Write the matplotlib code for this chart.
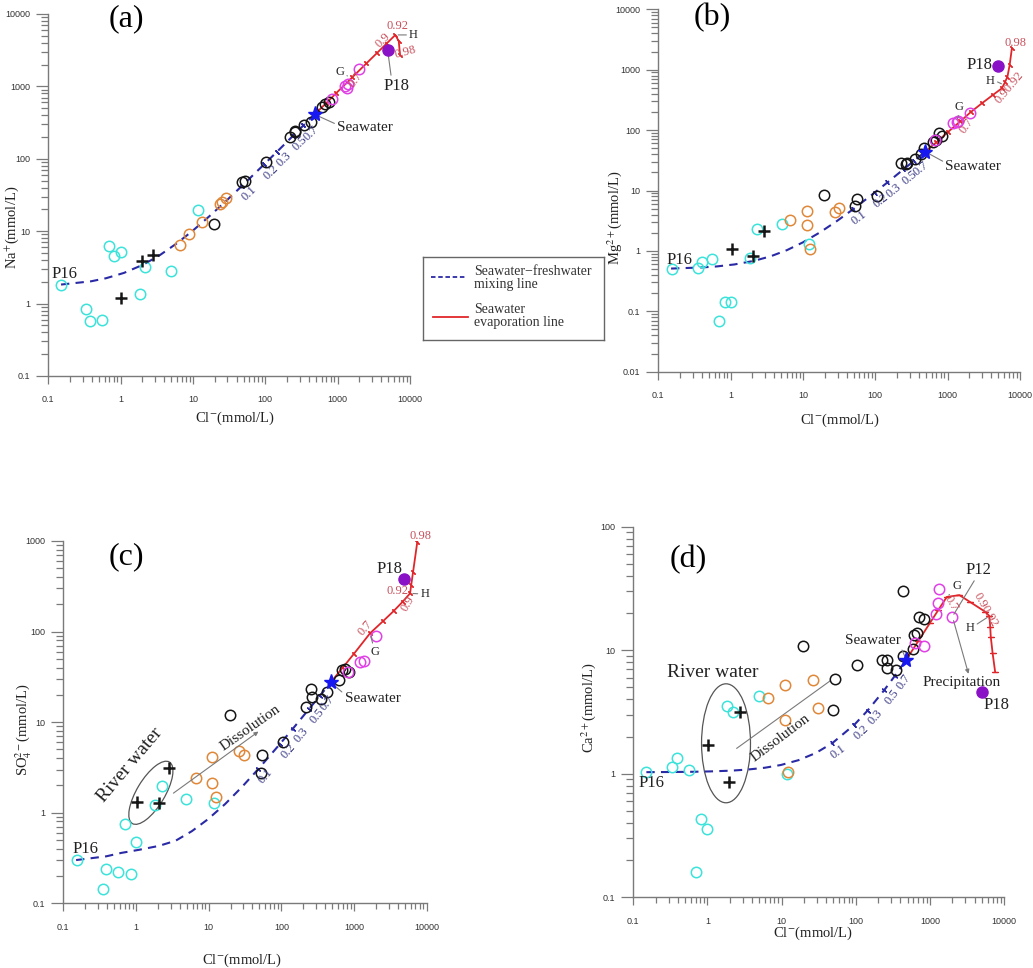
import numpy as np
import matplotlib
matplotlib.use('Agg')
import matplotlib.pyplot as plt
from matplotlib.patches import Ellipse
from matplotlib.ticker import FixedLocator, LogLocator, NullFormatter

plt.rcParams['font.family'] = ['Liberation Serif', 'DejaVu Serif']
plt.rcParams['mathtext.fontset'] = 'stix'

# ---------------- data ----------------
# mixing fractions for the seawater-freshwater mixing line
mix_f = [0, 0.0005, 0.001, 0.002, 0.004, 0.007, 0.012, 0.02, 0.035, 0.06, 0.1, 0.2, 0.3, 0.5, 0.7, 1.0]

# Panel (a) Na+
a_cyan_x = [0.15, 0.33, 0.38, 0.55, 0.68, 0.81, 1.0, 1.85, 2.2, 4.9, 11.7]
a_cyan_y = [1.83, 0.85, 0.57, 0.60, 6.2, 4.5, 5.1, 1.37, 3.15, 2.8, 19.3]
a_cross_x = [1.01, 2.0, 2.8]
a_cross_y = [1.2, 3.85, 4.65]
a_orange_x = [6.6, 8.9, 13.3, 23.6, 25, 28.6]
a_orange_y = [6.5, 9.0, 13.3, 23.4, 25.5, 28.9]
a_black_x = [19.3, 48, 52, 102, 222, 255, 260, 343, 424, 607, 674, 751]
a_black_y = [12.5, 48, 49, 89, 200, 234, 238, 295, 325, 524, 563, 601]
a_mag_x = [843, 1262, 1330, 1400, 1995]
a_mag_y = [675, 1012, 960, 1067, 1738]
a_p18 = (4910, 3178)
a_sw = (480, 410)
a_mix_cl = [0.15, 0.39, 0.63, 1.11, 2.07, 3.51, 5.91, 9.75, 16.9, 28.9, 48.1, 96.1, 144, 240, 336, 480]
a_mix_v = [1.83, 2.03, 2.24, 2.65, 3.46, 4.69, 6.73, 9.99, 16.1, 26.3, 42.6, 83.5, 124, 206, 288, 410]
a_evap_cl = [480, 700, 960, 1600, 2500, 3500, 4750, 6280, 7000, 7300]
a_evap_v = [410, 590, 810, 1337, 2075, 2886, 3900, 5130, 4200, 2700]

# Panel (b) Mg2+
b_cyan_x = [0.153, 0.35, 0.40, 0.56, 0.70, 0.84, 1.0, 1.85, 2.29, 5.1, 12]
b_cyan_y = [0.51, 0.53, 0.66, 0.73, 0.070, 0.14, 0.14, 0.75, 2.28, 2.79, 1.28]
b_cross_x = [1.04, 2.06, 2.89]
b_cross_y = [1.06, 0.83, 2.16]
b_orange_x = [6.7, 11.2, 11.2, 12.6, 27.7, 31.4]
b_orange_y = [3.24, 4.57, 2.68, 1.07, 4.46, 5.13]
b_black_x = [19.5, 52, 55, 107, 226, 262, 270, 357, 428, 475, 634, 700, 752, 844]
b_black_y = [8.4, 5.5, 7.1, 8.2, 28.1, 27.1, 28, 32.7, 40, 50, 62.7, 69, 88, 81]
b_mag_x = [660, 1197, 1330, 1400, 2037]
b_mag_y = [68, 129, 138, 141, 189]
b_p18 = (5010, 1165)
b_sw = (488, 44)
b_mix_cl = [0.15, 0.394, 0.638, 1.13, 2.10, 3.57, 6.00, 9.91, 17.2, 29.4, 48.9, 97.7, 147, 244, 342, 488]
b_mix_v = [0.51, 0.532, 0.553, 0.597, 0.684, 0.814, 1.03, 1.38, 2.03, 3.12, 4.86, 9.21, 13.6, 22.3, 30.9, 44]
b_evap_cl = [488, 700, 1000, 1500, 2100, 3000, 4200, 5620, 6200, 6710, 7200, 7730]
b_evap_v = [44, 63, 92, 140, 200, 280, 380, 492, 620, 766, 1200, 2260]

# Panel (c) SO4 2-
c_cyan_x = [0.154, 0.35, 0.39, 0.56, 0.85, 0.70, 1.0, 1.82, 2.30, 4.9, 12]
c_cyan_y = [0.30, 0.143, 0.24, 0.22, 0.21, 0.76, 0.475, 1.22, 1.97, 1.40, 1.27]
c_cross_x = [1.02, 2.05, 2.85]
c_cross_y = [1.32, 1.29, 3.09]
c_orange_x = [6.8, 11.1, 11.1, 12.5, 26.4, 31]
c_orange_y = [2.40, 4.12, 2.13, 1.51, 4.84, 4.34]
c_black_x = [19.5, 52, 54, 104, 221, 259, 264, 355, 429, 628, 690, 740, 863]
c_black_y = [12, 2.72, 4.3, 6.0, 14.6, 23.2, 18.8, 17.9, 21.7, 29.2, 37.7, 38.5, 36]
c_mag_x = [830, 1211, 1374, 1986]
c_mag_y = [36, 46.6, 47.3, 89]
c_p18 = (4875, 378)
c_sw = (478, 27.5)
c_mix_cl = [0.15, 0.389, 0.628, 1.11, 2.06, 3.50, 5.88, 9.71, 16.9, 28.8, 47.9, 95.7, 144, 239, 335, 478]
c_mix_v = [0.30, 0.33, 0.36, 0.39, 0.43, 0.49, 0.626, 0.844, 1.25, 1.93, 3.02, 5.74, 8.46, 13.9, 19.3, 27.5]
c_evap_cl = [478, 700, 1000, 1660, 2500, 3500, 4680, 5900, 6130, 6480, 7430]
c_evap_v = [27.5, 40, 57, 95.7, 130, 168, 214, 264, 330, 450, 982]

# Panel (d) Ca2+
d_cyan_x = [0.148, 0.336, 0.39, 0.56, 0.69, 0.82, 1.0, 1.82, 2.23, 4.95, 11.7]
d_cyan_y = [1.03, 1.13, 1.33, 1.07, 0.159, 0.43, 0.36, 3.56, 3.18, 4.26, 1.0]
d_cross_x = [1.03, 1.97, 2.75]
d_cross_y = [1.70, 0.85, 3.14]
d_orange_x = [6.5, 11, 11, 12.2, 26.8, 30.7]
d_orange_y = [4.07, 5.2, 2.72, 1.03, 5.7, 3.4]
d_black_x = [19.2, 49.9, 53, 103, 224, 261, 261, 346, 430, 439, 598, 617, 677, 721, 841]
d_black_y = [10.8, 3.28, 5.9, 7.6, 8.4, 8.4, 7.2, 6.9, 30.3, 8.9, 10.2, 13.3, 13.9, 18.5, 17.8]
d_mag_x = [637, 841, 1197, 1274, 1342, 2010]
d_mag_y = [11.4, 10.9, 19.5, 23.9, 31.3, 18.7]
d_p18 = (5000, 4.56)
d_sw = (480, 8.4)
d_mix_cl = [0.15, 0.39, 0.63, 1.11, 2.07, 3.51, 5.91, 9.75, 16.9, 28.9, 48.1, 96.1, 144, 240, 336, 480]
d_mix_v = [1.03, 1.034, 1.037, 1.045, 1.059, 1.082, 1.118, 1.177, 1.288, 1.472, 1.767, 2.50, 3.24, 4.72, 6.19, 8.4]
d_evap_cl = [480, 700, 1000, 1300, 1690, 2500, 3500, 5550, 6340, 6500, 6620, 7000, 7570]
d_evap_v = [8.4, 11.9, 16.6, 21.2, 27.0, 27.9, 24.5, 20.5, 18.9, 15.5, 12.8, 9.5, 6.7]

x_ticks = [0.1, 1, 10, 100, 1000, 10000]
x_ticklabels = ['0.1', '1', '10', '100', '1000', '10000']
a_yticks = [0.1, 1, 10, 100, 1000, 10000]
a_yticklabels = ['0.1', '1', '10', '100', '1000', '10000']
b_yticks = [0.01, 0.1, 1, 10, 100, 1000, 10000]
b_yticklabels = ['0.01', '0.1', '1', '10', '100', '1000', '10000']
c_yticks = [0.1, 1, 10, 100, 1000]
c_yticklabels = ['0.1', '1', '10', '100', '1000']
d_yticks = [0.1, 1, 10, 100]
d_yticklabels = ['0.1', '1', '10', '100']

# ---------------- style ----------------
CYAN = '#3ce3da'
ORANGE = '#e0883a'
BLACK = '#151515'
MAGENTA = '#e040e6'
PURPLE = '#8a12c6'
BLUE = '#1818f0'
NAVY = '#2a2aa6'
MIXTXT = '#3c3c88'
RED = '#e0262a'
REDTXT = '#c8505c'
GRAY = '#7a7a7a'

fig = plt.figure(figsize=(10.33, 9.68), dpi=100)

def make_axes(rect, ylim, yticks, yticklabels):
    ax = fig.add_axes(rect)
    ax.set_xscale('log')
    ax.set_yscale('log')
    ax.set_xlim(0.1, 10000)
    ax.set_ylim(*ylim)
    ax.xaxis.set_major_locator(FixedLocator(x_ticks))
    ax.set_xticklabels(x_ticklabels)
    ax.yaxis.set_major_locator(FixedLocator(yticks))
    ax.set_yticklabels(yticklabels)
    for axis in (ax.xaxis, ax.yaxis):
        axis.set_minor_locator(LogLocator(base=10, subs=range(2, 10), numticks=20))
        axis.set_minor_formatter(NullFormatter())
    for s in ('top', 'right'):
        ax.spines[s].set_visible(False)
    for s in ('left', 'bottom'):
        ax.spines[s].set_color(GRAY)
        ax.spines[s].set_linewidth(1.0)
    ax.tick_params(axis='both', which='both', direction='out', color=GRAY, width=0.9,
                   labelsize=6.5, labelcolor='#333333')
    ax.tick_params(axis='x', which='major', length=6, pad=8)
    ax.tick_params(axis='x', which='minor', length=4)
    ax.tick_params(axis='y', which='major', length=9, pad=4)
    ax.tick_params(axis='y', which='minor', length=5)
    for lab in ax.get_xticklabels() + ax.get_yticklabels():
        lab.set_fontfamily('Liberation Sans')
    return ax

def draw_panel(ax, cyan, cross, orange, black, mag, p18, sw, mix, evap, evap_tick_ang):
    ax.plot(mix[0], mix[1], color=NAVY, lw=1.5, dashes=(4, 3), zorder=2)
    ax.plot(evap[0], evap[1], color=RED, lw=1.3, zorder=2)
    ax.plot(evap[0][1:], evap[1][1:], ls='none', marker=(2, 2, evap_tick_ang), ms=4,
            mew=0.9, color=RED, zorder=2)
    kw = dict(ls='none', marker='o', ms=7.5, mfc='none', mew=1.1, zorder=3)
    ax.plot(cyan[0], cyan[1], mec=CYAN, **kw)
    ax.plot(orange[0], orange[1], mec=ORANGE, **kw)
    ax.plot(black[0], black[1], mec=BLACK, **kw)
    ax.plot(mag[0], mag[1], mec=MAGENTA, **kw)
    ax.plot(cross[0], cross[1], ls='none', marker='+', ms=8, mew=1.8, color=BLACK, zorder=4)
    ax.plot([p18[0]], [p18[1]], ls='none', marker='o', ms=8, color=PURPLE, zorder=4)
    ax.plot([sw[0]], [sw[1]], ls='none', marker='*', ms=11, color=BLUE, zorder=5)
    # mixing fraction labels
    pts = ax.transData.transform(np.column_stack([mix[0], mix[1]]))
    for i, f in enumerate(mix_f):
        if f in (0.1, 0.2, 0.3, 0.5, 0.7):
            p0, p1 = pts[i - 1], pts[i + 1]
            ang = np.degrees(np.arctan2(p1[1] - p0[1], p1[0] - p0[0]))
            r = np.radians(ang)
            off = (7.5 * np.sin(r), -7.5 * np.cos(r))
            ax.annotate(f'{f:g}', xy=(mix[0][i], mix[1][i]), xytext=off,
                        textcoords='offset points', rotation=ang, ha='center',
                        va='center', fontsize=9, color=MIXTXT, rotation_mode='anchor',
                        zorder=3)
            ax.plot([mix[0][i]], [mix[1][i]], marker=(2, 2, ang), ms=4, mew=1, color=NAVY)

def note(ax, s, xy, xytext, relpos=(0.5, 0.5), size=11, color='#222222', **kw):
    ax.annotate(s, xy=xy, xycoords='data', xytext=xytext, textcoords='axes fraction',
                ha='center', va='center', fontsize=size, color=color,
                arrowprops=dict(arrowstyle='-', color=GRAY, lw=0.8, shrinkA=0, shrinkB=2,
                                relpos=relpos), **kw)

def txt(ax, fx, fy, s, size=9, color=REDTXT, rot=0, **kw):
    ax.text(fx, fy, s, transform=ax.transAxes, fontsize=size, color=color, rotation=rot,
            ha='center', va='center', **kw)

# ---------- panel (a) ----------
axa = make_axes([0.04676, 0.6116, 0.3501, 0.3740], (0.1, 10000), a_yticks, a_yticklabels)
draw_panel(axa, (a_cyan_x, a_cyan_y), (a_cross_x, a_cross_y), (a_orange_x, a_orange_y),
           (a_black_x, a_black_y), (a_mag_x, a_mag_y), a_p18, a_sw,
           (a_mix_cl, a_mix_v), (a_evap_cl, a_evap_v), 45)
txt(axa, 0.215, 0.988, '(a)', size=23, color='black')
txt(axa, 0.045, 0.282, 'P16', size=12, color='#222222')
note(axa, 'P18', a_p18, (0.963, 0.801), relpos=(0.3, 1), size=12)
note(axa, 'Seawater', a_sw, (0.876, 0.687), relpos=(0, 0.7), size=11)
note(axa, 'G', (1361, 1390), (0.806, 0.841), relpos=(1, 0.5), size=9)
note(axa, 'H', (6280, 5130), (1.010, 0.942), relpos=(0, 0.5), size=9)
txt(axa, 0.965, 0.967, '0.92')
txt(axa, 0.925, 0.926, '0.9', rot=45)
txt(axa, 0.988, 0.893, '0.98', rot=15)
txt(axa, 0.851, 0.818, '0.7', rot=55)
txt(axa, 0.516, -0.116, r'Cl$^{-}$(mmol/L)', size=10.5, color='#222222')
txt(axa, -0.100, 0.41, r'Na$^{+}$(mmol/L)', size=10.5, color='#222222', rot=90)

# ---------- panel (b) ----------
axb = make_axes([0.6373, 0.6160, 0.3501, 0.3744], (0.01, 10000), b_yticks, b_yticklabels)
draw_panel(axb, (b_cyan_x, b_cyan_y), (b_cross_x, b_cross_y), (b_orange_x, b_orange_y),
           (b_black_x, b_black_y), (b_mag_x, b_mag_y), b_p18, b_sw,
           (b_mix_cl, b_mix_v), (b_evap_cl, b_evap_v), 45)
txt(axb, 0.148, 0.976, '(b)', size=23, color='black')
txt(axb, 0.058, 0.307, 'P16', size=12, color='#222222')
txt(axb, 0.888, 0.846, 'P18', size=12, color='#222222')
note(axb, 'Seawater', b_sw, (0.871, 0.566), relpos=(0, 0.8), size=11)
note(axb, 'G', (1330, 138), (0.832, 0.731), relpos=(0.5, 0), size=9)
note(axb, 'H', (6000, 560), (0.918, 0.803), relpos=(1, 0.5), size=9)
txt(axb, 0.970, 0.785, '0.90.92', rot=50)
txt(axb, 0.988, 0.908, '0.98')
txt(axb, 0.853, 0.678, '0.7', rot=55)
txt(axb, 0.502, -0.133, r'Cl$^{-}$(mmol/L)', size=10.5, color='#222222')
txt(axb, -0.120, 0.424, r'Mg$^{2+}$(mmol/L)', size=10.5, color='#222222', rot=90)

# ---------- panel (c) ----------
axc = make_axes([0.06128, 0.06684, 0.3518, 0.3743], (0.1, 1000), c_yticks, c_yticklabels)
draw_panel(axc, (c_cyan_x, c_cyan_y), (c_cross_x, c_cross_y), (c_orange_x, c_orange_y),
           (c_black_x, c_black_y), (c_mag_x, c_mag_y), c_p18, c_sw,
           (c_mix_cl, c_mix_v), (c_evap_cl, c_evap_v), 45)
txt(axc, 0.174, 0.957, '(c)', size=23, color='black')
txt(axc, 0.060, 0.149, 'P16', size=12, color='#222222')
txt(axc, 0.897, 0.922, 'P18', size=12, color='#222222')
note(axc, 'Seawater', c_sw, (0.851, 0.566), relpos=(0, 0.8), size=11)
note(axc, 'G', (1660, 95.7), (0.858, 0.694), relpos=(0.3, 1), size=9)
note(axc, 'H', (5900, 264), (0.995, 0.854), relpos=(0, 0.5), size=9)
txt(axc, 0.920, 0.863, '0.92')
txt(axc, 0.949, 0.828, '0.9', rot=60)
txt(axc, 0.830, 0.759, '0.7', rot=50)
txt(axc, 0.983, 1.015, '0.98')
txt(axc, 0.184, 0.382, 'River water', size=14, color='#222222', rot=50)
axc.add_patch(Ellipse((0.241, 0.305), 0.198, 0.077, angle=59, transform=axc.transAxes,
                      fill=False, ec='#555555', lw=0.9))
axc.annotate('', xy=(0.537, 0.474), xytext=(0.303, 0.304), xycoords='axes fraction',
             arrowprops=dict(arrowstyle='-|>', color=GRAY, lw=0.8, mutation_scale=6,
                             shrinkA=0, shrinkB=0))
txt(axc, 0.514, 0.483, 'Dissolution', size=11, color='#222222', rot=35)
txt(axc, 0.491, -0.158, r'Cl$^{-}$(mmol/L)', size=10.5, color='#222222')
txt(axc, -0.110, 0.481, r'SO$_4^{2-}$(mmol/L)', size=10.5, color='#222222', rot=90)

# ---------- panel (d) ----------
axd = make_axes([0.6131, 0.07304, 0.3589, 0.3829], (0.1, 100), d_yticks, d_yticklabels)
draw_panel(axd, (d_cyan_x, d_cyan_y), (d_cross_x, d_cross_y), (d_orange_x, d_orange_y),
           (d_black_x, d_black_y), (d_mag_x, d_mag_y), d_p18, d_sw,
           (d_mix_cl, d_mix_v), (d_evap_cl, d_evap_v), 90)
txt(axd, 0.148, 0.910, '(d)', size=23, color='black')
txt(axd, 0.050, 0.308, 'P16', size=12, color='#222222')
txt(axd, 0.980, 0.519, 'P18', size=12, color='#222222')
note(axd, 'P12', (2010, 18.7), (0.931, 0.883), relpos=(0.4, 0), size=12)
note(axd, 'Seawater', d_sw, (0.646, 0.692), relpos=(1, 0), size=11)
note(axd, 'G', (1690, 27.0), (0.872, 0.840), relpos=(0, 0), size=9)
note(axd, 'H', (6340, 18.9), (0.908, 0.726), relpos=(1, 0.7), size=9)
txt(axd, 0.857, 0.793, '0.7', rot=-60)
txt(axd, 0.949, 0.775, '0.90.92', rot=-60)
txt(axd, 0.886, 0.580, 'Precipitation', size=11, color='#222222')
axd.annotate('', xy=(0.904, 0.603), xycoords='axes fraction', xytext=(2010, 18.7),
             textcoords='data',
             arrowprops=dict(arrowstyle='-|>', color=GRAY, lw=0.8, mutation_scale=6,
                             shrinkA=3, shrinkB=0))
txt(axd, 0.214, 0.607, 'River water', size=14, color='#222222')
axd.add_patch(Ellipse((0.250, 0.4155), 0.132, 0.321, angle=0, transform=axd.transAxes,
                      fill=False, ec='#555555', lw=0.9))
axd.plot([0.279, 0.531], [0.402, 0.584], transform=axd.transAxes, color=GRAY, lw=0.8)
txt(axd, 0.396, 0.429, 'Dissolution', size=11, color='#222222', rot=37)
txt(axd, 0.484, -0.097, r'Cl$^{-}$(mmol/L)', size=10.5, color='#222222')
txt(axd, -0.121, 0.512, r'Ca$^{2+}$(mmol/L)', size=10.5, color='#222222', rot=90)

# ---------- legend ----------
lg = fig.add_axes([0.4095, 0.6488, 0.1752, 0.0857])
lg.set_xlim(0, 1)
lg.set_ylim(0, 1)
lg.set_xticks([])
lg.set_yticks([])
for s in lg.spines.values():
    s.set_color('#666666')
    s.set_linewidth(1.0)
lg.plot([0.043, 0.241], [0.763, 0.763], color=NAVY, lw=1.3, dashes=(2.5, 1.5))
lg.plot([0.054, 0.250], [0.273, 0.273], color=RED, lw=1.3)
lg.text(0.282, 0.751, 'Seawater\u2212freshwater\nmixing line', fontsize=10, va='center',
        ha='left', color='#333333', linespacing=1.0)
lg.text(0.282, 0.29, 'Seawater\nevaporation line', fontsize=10, va='center',
        ha='left', color='#333333', linespacing=1.0)

fig.savefig('out.png', dpi=100)
